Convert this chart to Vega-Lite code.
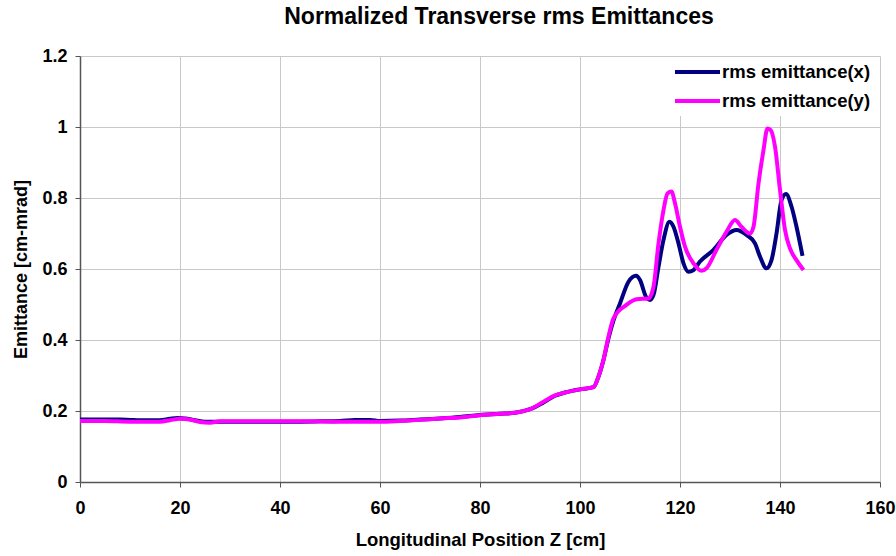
{
  "$schema": "https://vega.github.io/schema/vega-lite/v6.json",
  "width": 800,
  "height": 426,
  "autosize": "none",
  "padding": {"left": 80, "top": 56, "right": 16, "bottom": 74},
  "background": "white",
  "title": {
    "text": "Normalized Transverse rms Emittances",
    "font": "Liberation Sans",
    "fontSize": 23,
    "fontWeight": "bold",
    "color": "#000000",
    "anchor": "middle",
    "dx": 19,
    "offset": 18
  },
  "config": {
    "view": {"stroke": null},
    "font": "Liberation Sans"
  },
  "data": {
    "values": [
      {"z": 0, "emit": 0.176, "series": "rms emittance(x)"},
      {"z": 4, "emit": 0.176, "series": "rms emittance(x)"},
      {"z": 8, "emit": 0.176, "series": "rms emittance(x)"},
      {"z": 10, "emit": 0.175, "series": "rms emittance(x)"},
      {"z": 12, "emit": 0.174, "series": "rms emittance(x)"},
      {"z": 16, "emit": 0.174, "series": "rms emittance(x)"},
      {"z": 18, "emit": 0.178, "series": "rms emittance(x)"},
      {"z": 19.5, "emit": 0.18, "series": "rms emittance(x)"},
      {"z": 21, "emit": 0.179, "series": "rms emittance(x)"},
      {"z": 23, "emit": 0.174, "series": "rms emittance(x)"},
      {"z": 25, "emit": 0.17, "series": "rms emittance(x)"},
      {"z": 28, "emit": 0.17, "series": "rms emittance(x)"},
      {"z": 35, "emit": 0.17, "series": "rms emittance(x)"},
      {"z": 42, "emit": 0.17, "series": "rms emittance(x)"},
      {"z": 48, "emit": 0.171, "series": "rms emittance(x)"},
      {"z": 52, "emit": 0.172, "series": "rms emittance(x)"},
      {"z": 55, "emit": 0.175, "series": "rms emittance(x)"},
      {"z": 58, "emit": 0.175, "series": "rms emittance(x)"},
      {"z": 60, "emit": 0.172, "series": "rms emittance(x)"},
      {"z": 64, "emit": 0.173, "series": "rms emittance(x)"},
      {"z": 68, "emit": 0.176, "series": "rms emittance(x)"},
      {"z": 72, "emit": 0.179, "series": "rms emittance(x)"},
      {"z": 76, "emit": 0.183, "series": "rms emittance(x)"},
      {"z": 80, "emit": 0.189, "series": "rms emittance(x)"},
      {"z": 84, "emit": 0.192, "series": "rms emittance(x)"},
      {"z": 87, "emit": 0.195, "series": "rms emittance(x)"},
      {"z": 90, "emit": 0.205, "series": "rms emittance(x)"},
      {"z": 92.7, "emit": 0.224, "series": "rms emittance(x)"},
      {"z": 95, "emit": 0.243, "series": "rms emittance(x)"},
      {"z": 97, "emit": 0.252, "series": "rms emittance(x)"},
      {"z": 100, "emit": 0.261, "series": "rms emittance(x)"},
      {"z": 102.7, "emit": 0.267, "series": "rms emittance(x)"},
      {"z": 103.7, "emit": 0.297, "series": "rms emittance(x)"},
      {"z": 104.7, "emit": 0.344, "series": "rms emittance(x)"},
      {"z": 105.7, "emit": 0.405, "series": "rms emittance(x)"},
      {"z": 106.7, "emit": 0.455, "series": "rms emittance(x)"},
      {"z": 108, "emit": 0.503, "series": "rms emittance(x)"},
      {"z": 109.7, "emit": 0.564, "series": "rms emittance(x)"},
      {"z": 111.2, "emit": 0.581, "series": "rms emittance(x)"},
      {"z": 112, "emit": 0.569, "series": "rms emittance(x)"},
      {"z": 113.2, "emit": 0.522, "series": "rms emittance(x)"},
      {"z": 114, "emit": 0.513, "series": "rms emittance(x)"},
      {"z": 114.7, "emit": 0.527, "series": "rms emittance(x)"},
      {"z": 115.7, "emit": 0.606, "series": "rms emittance(x)"},
      {"z": 116.7, "emit": 0.682, "series": "rms emittance(x)"},
      {"z": 117.9, "emit": 0.733, "series": "rms emittance(x)"},
      {"z": 118.7, "emit": 0.719, "series": "rms emittance(x)"},
      {"z": 119.7, "emit": 0.672, "series": "rms emittance(x)"},
      {"z": 120.7, "emit": 0.616, "series": "rms emittance(x)"},
      {"z": 121.7, "emit": 0.592, "series": "rms emittance(x)"},
      {"z": 122.7, "emit": 0.597, "series": "rms emittance(x)"},
      {"z": 124, "emit": 0.621, "series": "rms emittance(x)"},
      {"z": 126.7, "emit": 0.654, "series": "rms emittance(x)"},
      {"z": 129.3, "emit": 0.696, "series": "rms emittance(x)"},
      {"z": 131.3, "emit": 0.71, "series": "rms emittance(x)"},
      {"z": 133.3, "emit": 0.696, "series": "rms emittance(x)"},
      {"z": 135, "emit": 0.672, "series": "rms emittance(x)"},
      {"z": 136, "emit": 0.635, "series": "rms emittance(x)"},
      {"z": 137.3, "emit": 0.602, "series": "rms emittance(x)"},
      {"z": 138.3, "emit": 0.625, "series": "rms emittance(x)"},
      {"z": 139.3, "emit": 0.7, "series": "rms emittance(x)"},
      {"z": 140.3, "emit": 0.794, "series": "rms emittance(x)"},
      {"z": 141.2, "emit": 0.811, "series": "rms emittance(x)"},
      {"z": 142.3, "emit": 0.776, "series": "rms emittance(x)"},
      {"z": 143.3, "emit": 0.719, "series": "rms emittance(x)"},
      {"z": 144.5, "emit": 0.637, "series": "rms emittance(x)"},

      {"z": 0, "emit": 0.172, "series": "rms emittance(y)"},
      {"z": 5, "emit": 0.172, "series": "rms emittance(y)"},
      {"z": 10, "emit": 0.17, "series": "rms emittance(y)"},
      {"z": 16, "emit": 0.17, "series": "rms emittance(y)"},
      {"z": 18, "emit": 0.174, "series": "rms emittance(y)"},
      {"z": 20, "emit": 0.178, "series": "rms emittance(y)"},
      {"z": 22, "emit": 0.176, "series": "rms emittance(y)"},
      {"z": 24, "emit": 0.169, "series": "rms emittance(y)"},
      {"z": 26, "emit": 0.167, "series": "rms emittance(y)"},
      {"z": 28, "emit": 0.171, "series": "rms emittance(y)"},
      {"z": 35, "emit": 0.171, "series": "rms emittance(y)"},
      {"z": 45, "emit": 0.171, "series": "rms emittance(y)"},
      {"z": 52, "emit": 0.17, "series": "rms emittance(y)"},
      {"z": 60, "emit": 0.17, "series": "rms emittance(y)"},
      {"z": 64, "emit": 0.172, "series": "rms emittance(y)"},
      {"z": 68, "emit": 0.175, "series": "rms emittance(y)"},
      {"z": 72, "emit": 0.179, "series": "rms emittance(y)"},
      {"z": 76, "emit": 0.182, "series": "rms emittance(y)"},
      {"z": 80, "emit": 0.188, "series": "rms emittance(y)"},
      {"z": 84, "emit": 0.192, "series": "rms emittance(y)"},
      {"z": 87, "emit": 0.195, "series": "rms emittance(y)"},
      {"z": 90, "emit": 0.205, "series": "rms emittance(y)"},
      {"z": 92.7, "emit": 0.226, "series": "rms emittance(y)"},
      {"z": 95, "emit": 0.244, "series": "rms emittance(y)"},
      {"z": 97, "emit": 0.252, "series": "rms emittance(y)"},
      {"z": 100, "emit": 0.261, "series": "rms emittance(y)"},
      {"z": 102.7, "emit": 0.267, "series": "rms emittance(y)"},
      {"z": 103.7, "emit": 0.297, "series": "rms emittance(y)"},
      {"z": 104.7, "emit": 0.344, "series": "rms emittance(y)"},
      {"z": 105.7, "emit": 0.41, "series": "rms emittance(y)"},
      {"z": 106.7, "emit": 0.461, "series": "rms emittance(y)"},
      {"z": 109.3, "emit": 0.499, "series": "rms emittance(y)"},
      {"z": 111.3, "emit": 0.515, "series": "rms emittance(y)"},
      {"z": 113.7, "emit": 0.517, "series": "rms emittance(y)"},
      {"z": 114.7, "emit": 0.55, "series": "rms emittance(y)"},
      {"z": 115.7, "emit": 0.672, "series": "rms emittance(y)"},
      {"z": 116.7, "emit": 0.766, "series": "rms emittance(y)"},
      {"z": 117.5, "emit": 0.813, "series": "rms emittance(y)"},
      {"z": 118.3, "emit": 0.818, "series": "rms emittance(y)"},
      {"z": 119, "emit": 0.785, "series": "rms emittance(y)"},
      {"z": 120, "emit": 0.719, "series": "rms emittance(y)"},
      {"z": 121, "emit": 0.663, "series": "rms emittance(y)"},
      {"z": 122.7, "emit": 0.616, "series": "rms emittance(y)"},
      {"z": 124.3, "emit": 0.595, "series": "rms emittance(y)"},
      {"z": 125.3, "emit": 0.602, "series": "rms emittance(y)"},
      {"z": 127.3, "emit": 0.654, "series": "rms emittance(y)"},
      {"z": 129.3, "emit": 0.705, "series": "rms emittance(y)"},
      {"z": 131, "emit": 0.738, "series": "rms emittance(y)"},
      {"z": 132.3, "emit": 0.719, "series": "rms emittance(y)"},
      {"z": 134, "emit": 0.7, "series": "rms emittance(y)"},
      {"z": 134.7, "emit": 0.719, "series": "rms emittance(y)"},
      {"z": 135.7, "emit": 0.841, "series": "rms emittance(y)"},
      {"z": 136.7, "emit": 0.935, "series": "rms emittance(y)"},
      {"z": 137.5, "emit": 0.996, "series": "rms emittance(y)"},
      {"z": 138.1, "emit": 0.992, "series": "rms emittance(y)"},
      {"z": 139, "emit": 0.945, "series": "rms emittance(y)"},
      {"z": 140, "emit": 0.823, "series": "rms emittance(y)"},
      {"z": 141, "emit": 0.71, "series": "rms emittance(y)"},
      {"z": 142, "emit": 0.658, "series": "rms emittance(y)"},
      {"z": 143.3, "emit": 0.625, "series": "rms emittance(y)"},
      {"z": 144.7, "emit": 0.597, "series": "rms emittance(y)"}
    ]
  },
  "mark": {"type": "line", "strokeWidth": 4, "interpolate": "monotone", "clip": true},
  "encoding": {
    "x": {
      "field": "z",
      "type": "quantitative",
      "scale": {"domain": [0, 160], "nice": false, "zero": true},
      "axis": {
        "title": "Longitudinal Position Z [cm]",
        "titleFont": "Liberation Sans",
        "titleFontSize": 18.5,
        "titleFontWeight": "bold",
        "titleColor": "#000000",
        "titlePadding": 13,
        "values": [0, 20, 40, 60, 80, 100, 120, 140, 160],
        "labelFont": "Liberation Sans",
        "labelFontSize": 18,
        "labelFontWeight": "bold",
        "labelColor": "#000000",
        "labelPadding": 12,
        "labelFlush": false,
        "domainColor": "#555555",
        "domainWidth": 1.5,
        "tickColor": "#555555",
        "tickSize": 5,
        "grid": true,
        "gridColor": "#c8c8c8",
        "gridWidth": 1
      }
    },
    "y": {
      "field": "emit",
      "type": "quantitative",
      "scale": {"domain": [0, 1.2], "nice": false},
      "axis": {
        "title": "Emittance [cm-mrad]",
        "titleFont": "Liberation Sans",
        "titleFontSize": 18,
        "titleFontWeight": "bold",
        "titleColor": "#000000",
        "titlePadding": 11,
        "values": [0, 0.2, 0.4, 0.6, 0.8, 1, 1.2],
        "format": "~g",
        "labelFont": "Liberation Sans",
        "labelFontSize": 18,
        "labelFontWeight": "bold",
        "labelColor": "#000000",
        "labelPadding": 8,
        "labelFlush": false,
        "domainColor": "#555555",
        "domainWidth": 1.5,
        "tickColor": "#555555",
        "tickSize": 5,
        "grid": true,
        "gridColor": "#c8c8c8",
        "gridWidth": 1
      }
    },
    "color": {
      "field": "series",
      "type": "nominal",
      "scale": {
        "domain": ["rms emittance(x)", "rms emittance(y)"],
        "range": ["#000080", "#ff00ff"]
      },
      "legend": {
        "title": null,
        "orient": "none",
        "legendX": 591,
        "legendY": 1,
        "padding": 2,
        "fillColor": "white",
        "clipHeight": 26,
        "rowPadding": 3,
        "symbolType": "stroke",
        "symbolStrokeWidth": 4,
        "symbolSize": 2025,
        "labelFont": "Liberation Sans",
        "labelFontSize": 18.5,
        "labelFontWeight": "bold",
        "labelColor": "#000000",
        "labelOffset": 0
      }
    }
  }
}
